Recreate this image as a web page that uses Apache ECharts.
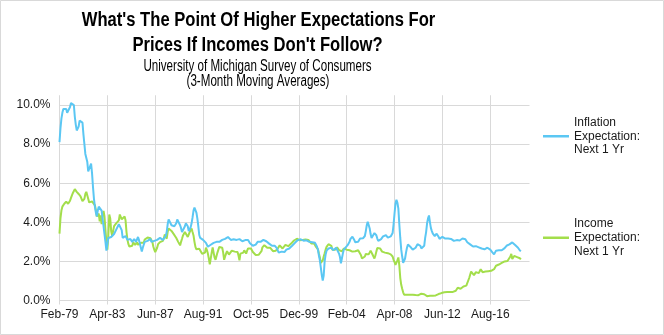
<!DOCTYPE html>
<html><head><meta charset="utf-8">
<script src="https://cdn.jsdelivr.net/npm/echarts@6/dist/echarts.min.js"></script>
<style>html,body{margin:0;padding:0;background:#fff}#c{width:664px;height:335px}</style>
</head><body><div id="c"></div>
<script>
// ---- categories (monthly, Feb-79 onward) ----
const MONTH_NAMES = ['Jan','Feb','Mar','Apr','May','Jun','Jul','Aug','Sep','Oct','Nov','Dec'];
const START_YEAR = 1979, START_MONTH = 1, N_MONTHS = 492;
const categories = [];
for (let i = 0; i < N_MONTHS; i++) {
  const m = (START_MONTH + i) % 12, y = START_YEAR + Math.floor((START_MONTH + i) / 12);
  categories.push(MONTH_NAMES[m] + '-' + String(y % 100).padStart(2, '0'));
}
const yTicks = [0, 2, 4, 6, 8, 10];

// ---- Inflation Expectation: Next 1 Yr (%), Feb-79 .. Apr-19 ----
const inflation = [
  8.1, 8.8, 9.3, 9.6, 9.8, 9.9, 9.9, 9.8, 9.6, 9.5, 9.7,
  9.9, 10.1, 10.2, 10.2, 10.0, 9.4, 9.0, 8.7, 8.6, 8.9, 9.2, 9.3,
  9.3, 9.1, 8.5, 8.0, 7.5, 7.4, 7.1, 6.6, 6.5, 6.6, 7.0, 6.5,
  5.8, 5.2, 4.8, 4.5, 4.3, 4.6, 4.8, 4.8, 4.7, 4.6, 4.2, 3.8,
  3.4, 3.0, 2.55, 2.9, 3.2, 3.3, 3.3, 3.25, 3.2, 3.2, 3.4, 3.5,
  3.6, 3.6, 3.7, 3.9, 4.0, 3.8, 3.6, 3.2, 3.15, 3.25, 3.3, 3.2,
  3.1, 3.0, 3.1, 3.15, 3.1, 3.0, 3.05, 3.15, 3.1, 3.0, 3.1, 3.25,
  3.1, 2.9, 2.7, 2.5, 2.7, 2.85, 3.0, 3.05, 3.1, 3.05, 3.0, 3.1,
  3.15, 3.0, 3.0, 3.0, 3.05, 3.1, 3.1, 3.1, 3.1, 3.15, 3.2, 3.15,
  3.15, 3.1, 3.15, 3.2, 3.3, 3.5, 3.9, 4.15, 4.25, 4.1, 3.85, 3.9,
  3.95, 3.8, 3.75, 3.95, 4.15, 4.2, 4.15, 3.85, 3.7, 3.5, 3.5, 3.6,
  3.8, 3.95, 3.9, 3.8, 3.55, 3.6, 3.75, 3.95, 4.25, 4.6, 4.75, 4.7,
  4.5, 4.2, 3.8, 3.35, 3.2, 3.15, 3.15, 3.1, 3.1, 3.0, 2.95, 2.85,
  2.75, 2.75, 2.8, 2.85, 2.9, 2.9, 2.95, 2.95, 3.0, 3.0, 3.0, 3.0,
  3.0, 3.05, 3.07, 3.1, 3.1, 3.13, 3.15, 3.17, 3.22, 3.25, 3.2, 3.15,
  3.1, 3.12, 3.14, 3.13, 3.12, 3.1, 3.1, 3.1, 3.12, 3.14, 3.15, 3.12,
  3.03, 3.02, 3.09, 3.09, 3.09, 3.12, 3.1, 3.0, 2.93, 2.86, 2.83, 2.8,
  2.82, 2.83, 2.86, 2.93, 3.0, 3.03, 3.03, 3.0, 3.02, 3.08, 3.1, 3.1,
  3.05, 3.03, 2.98, 2.94, 2.91, 2.87, 2.83, 2.8, 2.8, 2.82, 2.8, 2.75,
  2.68, 2.56, 2.45, 2.4, 2.46, 2.5, 2.55, 2.52, 2.48, 2.55, 2.6, 2.65,
  2.66, 2.66, 2.7, 2.75, 2.8, 2.85, 2.9, 2.95, 3.0, 3.05, 3.09, 3.12,
  3.14, 3.13, 3.11, 3.09, 3.06, 3.03, 3.06, 3.08, 3.05, 3.02, 3.0, 3.02,
  3.03, 2.98, 2.96, 2.98, 2.95, 2.9, 2.75, 2.6, 2.3, 2.05, 1.68, 1.3,
  1.02, 1.28, 2.0, 2.35, 2.55, 2.62, 2.66, 2.7, 2.74, 2.7, 2.62, 2.57,
  2.62, 2.66, 2.7, 2.72, 2.6, 2.4, 2.22, 1.9, 2.15, 2.4, 2.6, 2.68,
  2.72, 2.76, 2.83, 2.9, 3.0, 3.15, 3.22, 3.26, 3.18, 3.09, 2.98, 2.91,
  2.93, 3.0, 3.08, 3.17, 3.26, 3.22, 3.18, 3.24, 3.3, 3.55, 3.85, 4.03,
  4.0, 3.7, 3.4, 3.2, 3.2, 3.28, 3.45, 3.45, 3.34, 3.17, 3.05, 3.0,
  3.05, 3.14, 3.22, 3.28, 3.34, 3.34, 3.34, 3.3, 3.22, 3.17, 3.17, 3.28,
  3.34, 3.45, 3.9, 4.45, 4.95, 5.15, 5.0, 4.7, 3.9, 3.2, 2.6, 2.25,
  1.93, 2.0, 2.15, 2.45, 2.7, 2.86, 2.88, 2.85, 2.72, 2.64, 2.6, 2.62,
  2.66, 2.7, 2.76, 2.88, 2.93, 2.98, 2.8, 2.66, 2.6, 2.6, 2.8, 3.2,
  3.5, 3.95, 4.2, 4.35, 4.0, 3.7, 3.55, 3.42, 3.34, 3.3, 3.3, 3.42,
  3.36, 3.26, 3.15, 3.1, 3.22, 3.26, 3.32, 3.26, 3.17, 3.19, 3.2, 3.17,
  3.13, 3.1, 3.15, 3.17, 3.1, 3.05, 3.0, 3.03, 3.09, 3.06, 3.04, 3.07,
  3.1, 3.15, 3.17, 3.19, 3.16, 3.13, 3.05, 2.98, 2.93, 2.9, 2.87, 2.84,
  2.79, 2.76, 2.76, 2.79, 2.78, 2.76, 2.73, 2.72, 2.74, 2.7, 2.66, 2.63,
  2.62, 2.62, 2.63, 2.68, 2.7, 2.67, 2.65, 2.6, 2.53, 2.48, 2.4, 2.36,
  2.45, 2.55, 2.57, 2.57, 2.57, 2.6, 2.6, 2.57, 2.62, 2.66, 2.68, 2.72,
  2.8, 2.83, 2.83, 2.87, 2.89, 2.95, 2.97, 2.93, 2.88, 2.84, 2.79, 2.74,
  2.7, 2.64, 2.56, 2.52
];

// ---- Income Expectation: Next 1 Yr (%), Feb-79 .. Apr-19 ----
const income = [
  3.42, 4.2, 4.6, 4.8, 4.9, 4.95, 5.0, 5.06, 5.05, 4.95, 4.88,
  5.1, 5.25, 5.38, 5.5, 5.6, 5.7, 5.65, 5.56, 5.6, 5.45, 5.38, 5.33,
  5.25, 5.08, 5.1, 5.2, 5.45, 5.56, 5.56, 5.2, 5.02, 4.96, 5.0, 5.07,
  5.04, 5.0, 4.87, 4.62, 4.3, 4.3, 4.45, 4.05, 4.36, 3.9, 4.4, 4.58,
  4.3, 3.6, 3.0, 2.6, 3.3, 4.4, 4.2, 3.55, 3.3, 3.55, 3.8, 3.9,
  3.93, 3.93, 4.0, 4.1, 4.4, 4.35, 4.15, 4.05, 4.2, 4.3, 4.1, 3.5,
  3.1, 2.88, 2.76, 2.7, 2.66, 2.8, 2.98, 2.9, 2.85, 2.95, 2.97, 2.85,
  2.88, 2.9, 2.95, 2.99, 2.93, 2.95, 3.12, 3.17, 3.2, 3.22, 3.22, 3.2,
  3.18, 3.16, 3.0, 2.76, 2.6, 2.48, 2.55, 2.7, 2.88, 2.97, 2.99, 2.93,
  2.9, 3.05, 3.18, 3.38, 3.3, 3.16, 3.5, 3.68, 3.64, 3.6, 3.56, 3.52,
  3.42, 3.4, 3.33, 3.2, 3.1, 3.0, 2.9, 2.82, 3.0, 3.16, 3.33, 3.42,
  3.5, 3.45, 3.4, 3.25, 3.25, 3.5, 3.6, 3.68, 3.5, 3.33, 3.0, 2.74,
  2.62, 2.56, 2.6, 2.65, 2.74, 2.56, 2.39, 2.39, 2.39, 2.45, 2.7, 2.58,
  2.4, 2.15, 1.85, 1.85, 2.45, 2.72, 2.45, 2.2, 2.08, 2.15, 2.45, 2.6,
  2.74, 2.8, 2.8, 2.7, 2.45, 2.08, 2.25, 2.4, 2.52, 2.5, 2.35, 2.33,
  2.4, 2.55, 2.65, 2.55, 2.5, 2.55, 2.55, 2.48, 2.3, 2.05, 2.4, 2.5,
  2.4, 2.45, 2.57, 2.5, 2.4, 2.55, 2.66, 2.6, 2.57, 2.66, 2.6, 2.48,
  2.43, 2.38, 2.33, 2.36, 2.4, 2.34, 2.31, 2.4, 2.52, 2.72, 2.78, 2.83,
  2.8, 2.74, 2.7, 2.68, 2.72, 2.7, 2.66, 2.6, 2.52, 2.48, 2.5, 2.55,
  2.62, 2.66, 2.75, 2.82, 2.78, 2.72, 2.66, 2.7, 2.74, 2.85, 2.9, 2.85,
  2.78, 2.75, 2.83, 2.91, 2.97, 3.0, 3.07, 3.13, 3.17, 3.16, 3.14, 3.12,
  3.08, 3.02, 3.04, 3.09, 3.14, 3.15, 3.12, 3.1, 3.12, 3.1, 3.09, 3.0,
  2.92, 2.95, 2.93, 2.91, 2.85, 2.74, 2.7, 2.62, 2.4, 2.2, 1.92, 1.95,
  2.05, 2.25, 2.42, 2.6, 2.74, 2.83, 2.88, 2.9, 2.88, 2.8, 2.6, 2.52,
  2.5, 2.6, 2.66, 2.72, 2.68, 2.58, 2.52, 2.48, 2.52, 2.57, 2.66, 2.72,
  2.68, 2.6, 2.5, 2.52, 2.57, 2.62, 2.58, 2.5, 2.5, 2.57, 2.52, 2.48,
  2.52, 2.57, 2.62, 2.5, 2.31, 2.15, 2.05, 2.15, 2.25, 2.38, 2.33, 2.31,
  2.36, 2.45, 2.55, 2.5, 2.35, 2.25, 2.15, 2.3, 2.5, 2.68, 2.74, 2.72,
  2.66, 2.6, 2.5, 2.45, 2.47, 2.45, 2.43, 2.4, 2.42, 2.44, 2.4, 2.36,
  2.3, 2.25, 2.08, 1.97, 1.82, 1.72, 2.05, 2.2, 1.8, 1.15, 0.8, 0.6,
  0.42, 0.3, 0.28, 0.32, 0.3, 0.29, 0.32, 0.3, 0.25, 0.24, 0.3, 0.35,
  0.31, 0.28, 0.32, 0.3, 0.27, 0.29, 0.32, 0.35, 0.32, 0.3, 0.32, 0.26,
  0.24, 0.22, 0.21, 0.23, 0.24, 0.21, 0.22, 0.24, 0.25, 0.28, 0.26, 0.25,
  0.33, 0.33, 0.33, 0.36, 0.38, 0.36, 0.34, 0.42, 0.48, 0.5, 0.43, 0.4,
  0.38, 0.43, 0.5, 0.48, 0.44, 0.4, 0.42, 0.5, 0.58, 0.65, 0.67, 0.7,
  0.6, 0.58, 0.67, 0.72, 0.76, 0.77, 0.76, 0.8, 0.86, 1.15, 1.32, 1.48,
  1.45, 1.38, 1.3, 1.35, 1.45, 1.5, 1.53, 1.4, 1.45, 1.6, 1.55, 1.45,
  1.5, 1.53, 1.48, 1.44, 1.48, 1.5, 1.45, 1.5, 1.52, 1.55, 1.57, 1.6,
  1.7, 1.78, 1.84, 1.88, 1.84, 1.8, 1.88, 1.92, 1.9, 1.95, 2.0, 2.03,
  2.0, 2.02, 2.05, 2.1, 2.25, 2.38, 2.12, 2.15, 2.28, 2.38, 2.32, 2.22,
  2.18, 2.2, 2.16, 2.1
];

const seriesNames = ['Inflation Expectation: Next 1 Yr', 'Income Expectation: Next 1 Yr'];
const legendLabels = ['Inflation\nExpectation:\nNext 1 Yr', 'Income\nExpectation:\nNext 1 Yr'];
const titleLines = ["What's The Point Of Higher Expectations For", "Prices If Incomes Don't Follow?"];
const subtitleLines = ['University of Michigan Survey of Consumers', '(3-Month Moving Averages)'];

const FONT = '"Liberation Sans", Arial, sans-serif';
const GRID_C = '#d9d9d9';
const chart = echarts.init(document.getElementById('c'), null, {renderer: 'canvas'});

const legendCommon = {
  orient: 'vertical', left: 543, padding: 0, icon: 'rect', itemWidth: 26, itemHeight: 2.5,
  selectedMode: false,
  formatter: n => legendLabels[seriesNames.indexOf(n)],
  textStyle: {fontFamily: FONT, fontSize: 12, color: '#1a1a1a', lineHeight: 13.7, padding: [27.4, 0, 0, 0]}
};

chart.setOption({
  animation: false,
  backgroundColor: '#fff',
  textStyle: {fontFamily: FONT},
  graphic: [
    {type: 'rect', shape: {x: 0.5, y: 0.5, width: 663, height: 334}, style: {fill: 'none', stroke: GRID_C, lineWidth: 1}, silent: true},
    {type: 'text', x: 258.5, y: 20, scaleX: 0.83, style: {text: titleLines[0], font: 'bold 20px ' + FONT, fill: '#000', textAlign: 'center', textVerticalAlign: 'middle'}},
    {type: 'text', x: 257.5, y: 45, scaleX: 0.83, style: {text: titleLines[1], font: 'bold 20px ' + FONT, fill: '#000', textAlign: 'center', textVerticalAlign: 'middle'}},
    {type: 'text', x: 257.5, y: 66.5, scaleX: 0.725, style: {text: subtitleLines[0], font: '16px ' + FONT, fill: '#000', textAlign: 'center', textVerticalAlign: 'middle'}},
    {type: 'text', x: 258, y: 81.5, scaleX: 0.725, style: {text: subtitleLines[1], font: '16px ' + FONT, fill: '#000', textAlign: 'center', textVerticalAlign: 'middle'}}
  ],
  legend: [
    Object.assign({}, legendCommon, {data: [seriesNames[0]], top: 102}),
    Object.assign({}, legendCommon, {data: [seriesNames[1]], top: 203.5})
  ],
  grid: {left: 59.5, right: 134.5, top: 95.25, bottom: 34.5, containLabel: false},
  xAxis: {
    type: 'category', data: categories, boundaryGap: false,
    axisLine: {lineStyle: {color: GRID_C, width: 1}},
    axisTick: {show: true, interval: 49, length: 4, lineStyle: {color: GRID_C}},
    axisLabel: {interval: 49, color: '#1a1a1a', fontSize: 12, fontFamily: FONT, margin: 8},
    splitLine: {show: true, interval: 49, lineStyle: {color: GRID_C, width: 1}}
  },
  yAxis: {
    type: 'value', min: 0, max: 10.5, interval: 2,
    axisLine: {show: false}, axisTick: {show: false},
    axisLabel: {color: '#1a1a1a', fontSize: 12, fontFamily: FONT, margin: 9,
      formatter: v => (yTicks.indexOf(v) >= 0 ? v.toFixed(1) + '%' : '')},
    splitLine: {show: true, showMaxLine: false, lineStyle: {color: GRID_C, width: 1}}
  },
  series: [
    {name: seriesNames[0], type: 'line', data: inflation, showSymbol: false, symbol: 'none',
      lineStyle: {color: '#5BC7F3', width: 2}, itemStyle: {color: '#5BC7F3'}, z: 3},
    {name: seriesNames[1], type: 'line', data: income, showSymbol: false, symbol: 'none',
      lineStyle: {color: '#A3DE4B', width: 2}, itemStyle: {color: '#A3DE4B'}, z: 2}
  ]
});
</script></body></html>
